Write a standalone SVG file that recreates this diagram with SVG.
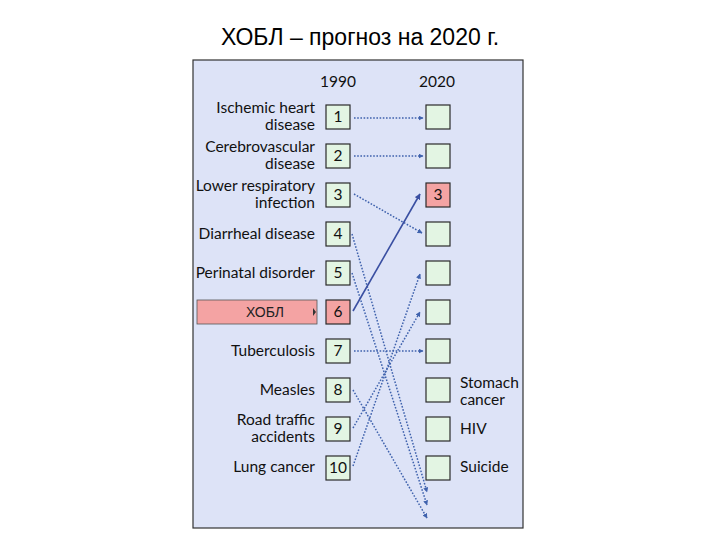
<svg xmlns="http://www.w3.org/2000/svg" width="720" height="540" viewBox="0 0 720 540">
<style>
.title{font-family:"Liberation Sans",Arial,sans-serif;font-size:23px;fill:#000}
.lbl{font-family:Lato,"Open Sans",sans-serif;font-size:15.5px;fill:#111}
.r{text-anchor:end}
.m{text-anchor:middle}
.box{fill:#e3f5e3;stroke:#2a2a2a;stroke-width:1.2}
.pink{fill:#f4a3a3;stroke:#2a2a2a;stroke-width:1.2}
.dot{fill:none;stroke:#3f62ad;stroke-width:1.5;stroke-dasharray:1.6 1.6;marker-end:url(#ah)}
.sol{fill:none;stroke:#3a4fa2;stroke-width:1.6;marker-end:url(#ah2)}
</style>
<defs>
<marker id="ah" viewBox="0 0 10 10" refX="9" refY="5" markerWidth="5" markerHeight="5" orient="auto" markerUnits="userSpaceOnUse"><path d="M0,0 L10,5 L0,10 z" fill="#3f62ad"/></marker>
<marker id="ah2" viewBox="0 0 10 10" refX="9" refY="5" markerWidth="6" markerHeight="6" orient="auto" markerUnits="userSpaceOnUse"><path d="M0,0 L10,5 L0,10 z" fill="#3a4fa2"/></marker>
</defs>
<rect width="720" height="540" fill="#fff"/>
<text class="title m" x="360" y="45">ХОБЛ – прогноз на 2020 г.</text>
<rect x="193" y="60" width="330" height="468" fill="#dde3f7" stroke="#333" stroke-width="1.2"/>
<text class="lbl m" x="338" y="87">1990</text>
<text class="lbl m" x="437" y="87">2020</text>

<g id="highlight">
<rect x="197" y="300" width="120" height="24" fill="#f4a3a3" stroke="#555" stroke-width="0.8"/>
<path d="M313,308 L316,312 L313,316 z" fill="#333"/>
<text class="m" x="265" y="317" style="font-family:'Liberation Sans',Arial,sans-serif;font-size:14px;fill:#222">ХОБЛ</text>
</g>

<g id="left">
<g id="l1"><text class="lbl r" x="315" y="113">Ischemic heart</text><text class="lbl r" x="315" y="130">disease</text><rect class="box" x="326" y="105" width="24" height="24"/><text class="lbl m" x="338" y="122">1</text></g>
<g id="l2"><text class="lbl r" x="315" y="152">Cerebrovascular</text><text class="lbl r" x="315" y="169">disease</text><rect class="box" x="326" y="144" width="24" height="24"/><text class="lbl m" x="338" y="161">2</text></g>
<g id="l3"><text class="lbl r" x="315" y="191">Lower respiratory</text><text class="lbl r" x="315" y="208">infection</text><rect class="box" x="326" y="183" width="24" height="24"/><text class="lbl m" x="338" y="200">3</text></g>
<g id="l4"><text class="lbl r" x="315" y="239">Diarrheal disease</text><rect class="box" x="326" y="222" width="24" height="24"/><text class="lbl m" x="338" y="239">4</text></g>
<g id="l5"><text class="lbl r" x="315" y="278">Perinatal disorder</text><rect class="box" x="326" y="261" width="24" height="24"/><text class="lbl m" x="338" y="278">5</text></g>
<g id="l6"><rect class="pink" x="326" y="300" width="24" height="24"/><text class="lbl m" x="338" y="317">6</text></g>
<g id="l7"><text class="lbl r" x="315" y="356">Tuberculosis</text><rect class="box" x="326" y="339" width="24" height="24"/><text class="lbl m" x="338" y="356">7</text></g>
<g id="l8"><text class="lbl r" x="315" y="395">Measles</text><rect class="box" x="326" y="378" width="24" height="24"/><text class="lbl m" x="338" y="395">8</text></g>
<g id="l9"><text class="lbl r" x="315" y="425">Road traffic</text><text class="lbl r" x="315" y="442">accidents</text><rect class="box" x="326" y="417" width="24" height="24"/><text class="lbl m" x="338" y="434">9</text></g>
<g id="l10"><text class="lbl r" x="315" y="472">Lung cancer</text><rect class="box" x="326" y="456" width="24" height="24"/><text class="lbl m" x="338" y="473">10</text></g>
</g>

<g id="right">
<rect class="box" x="426" y="105" width="24" height="24"/>
<rect class="box" x="426" y="144" width="24" height="24"/>
<g id="r3"><rect class="pink" x="426" y="183" width="24" height="24"/><text class="lbl m" x="438" y="200">3</text></g>
<rect class="box" x="426" y="222" width="24" height="24"/>
<rect class="box" x="426" y="261" width="24" height="24"/>
<rect class="box" x="426" y="300" width="24" height="24"/>
<rect class="box" x="426" y="339" width="24" height="24"/>
<g id="r8"><rect class="box" x="426" y="378" width="24" height="24"/><text class="lbl" x="460" y="388">Stomach</text><text class="lbl" x="460" y="405">cancer</text></g>
<g id="r9"><rect class="box" x="426" y="417" width="24" height="24"/><text class="lbl" x="460" y="434">HIV</text></g>
<g id="r10"><rect class="box" x="426" y="456" width="24" height="24"/><text class="lbl" x="460" y="472">Suicide</text></g>
</g>

<g id="connectors">
<line class="dot" x1="354" y1="118" x2="423" y2="118"/>
<line class="dot" x1="354" y1="156" x2="423" y2="156"/>
<line class="dot" x1="354" y1="194" x2="422" y2="233"/>
<line class="dot" x1="352" y1="234" x2="427" y2="492"/>
<line class="dot" x1="352" y1="273" x2="427" y2="505"/>
<line class="sol" x1="353" y1="311" x2="420" y2="194"/>
<line class="dot" x1="354" y1="351" x2="423" y2="351"/>
<line class="dot" x1="353" y1="390" x2="427" y2="518"/>
<line class="dot" x1="353" y1="428" x2="420" y2="312"/>
<line class="dot" x1="353" y1="466" x2="420" y2="274"/>
</g>
</svg>
